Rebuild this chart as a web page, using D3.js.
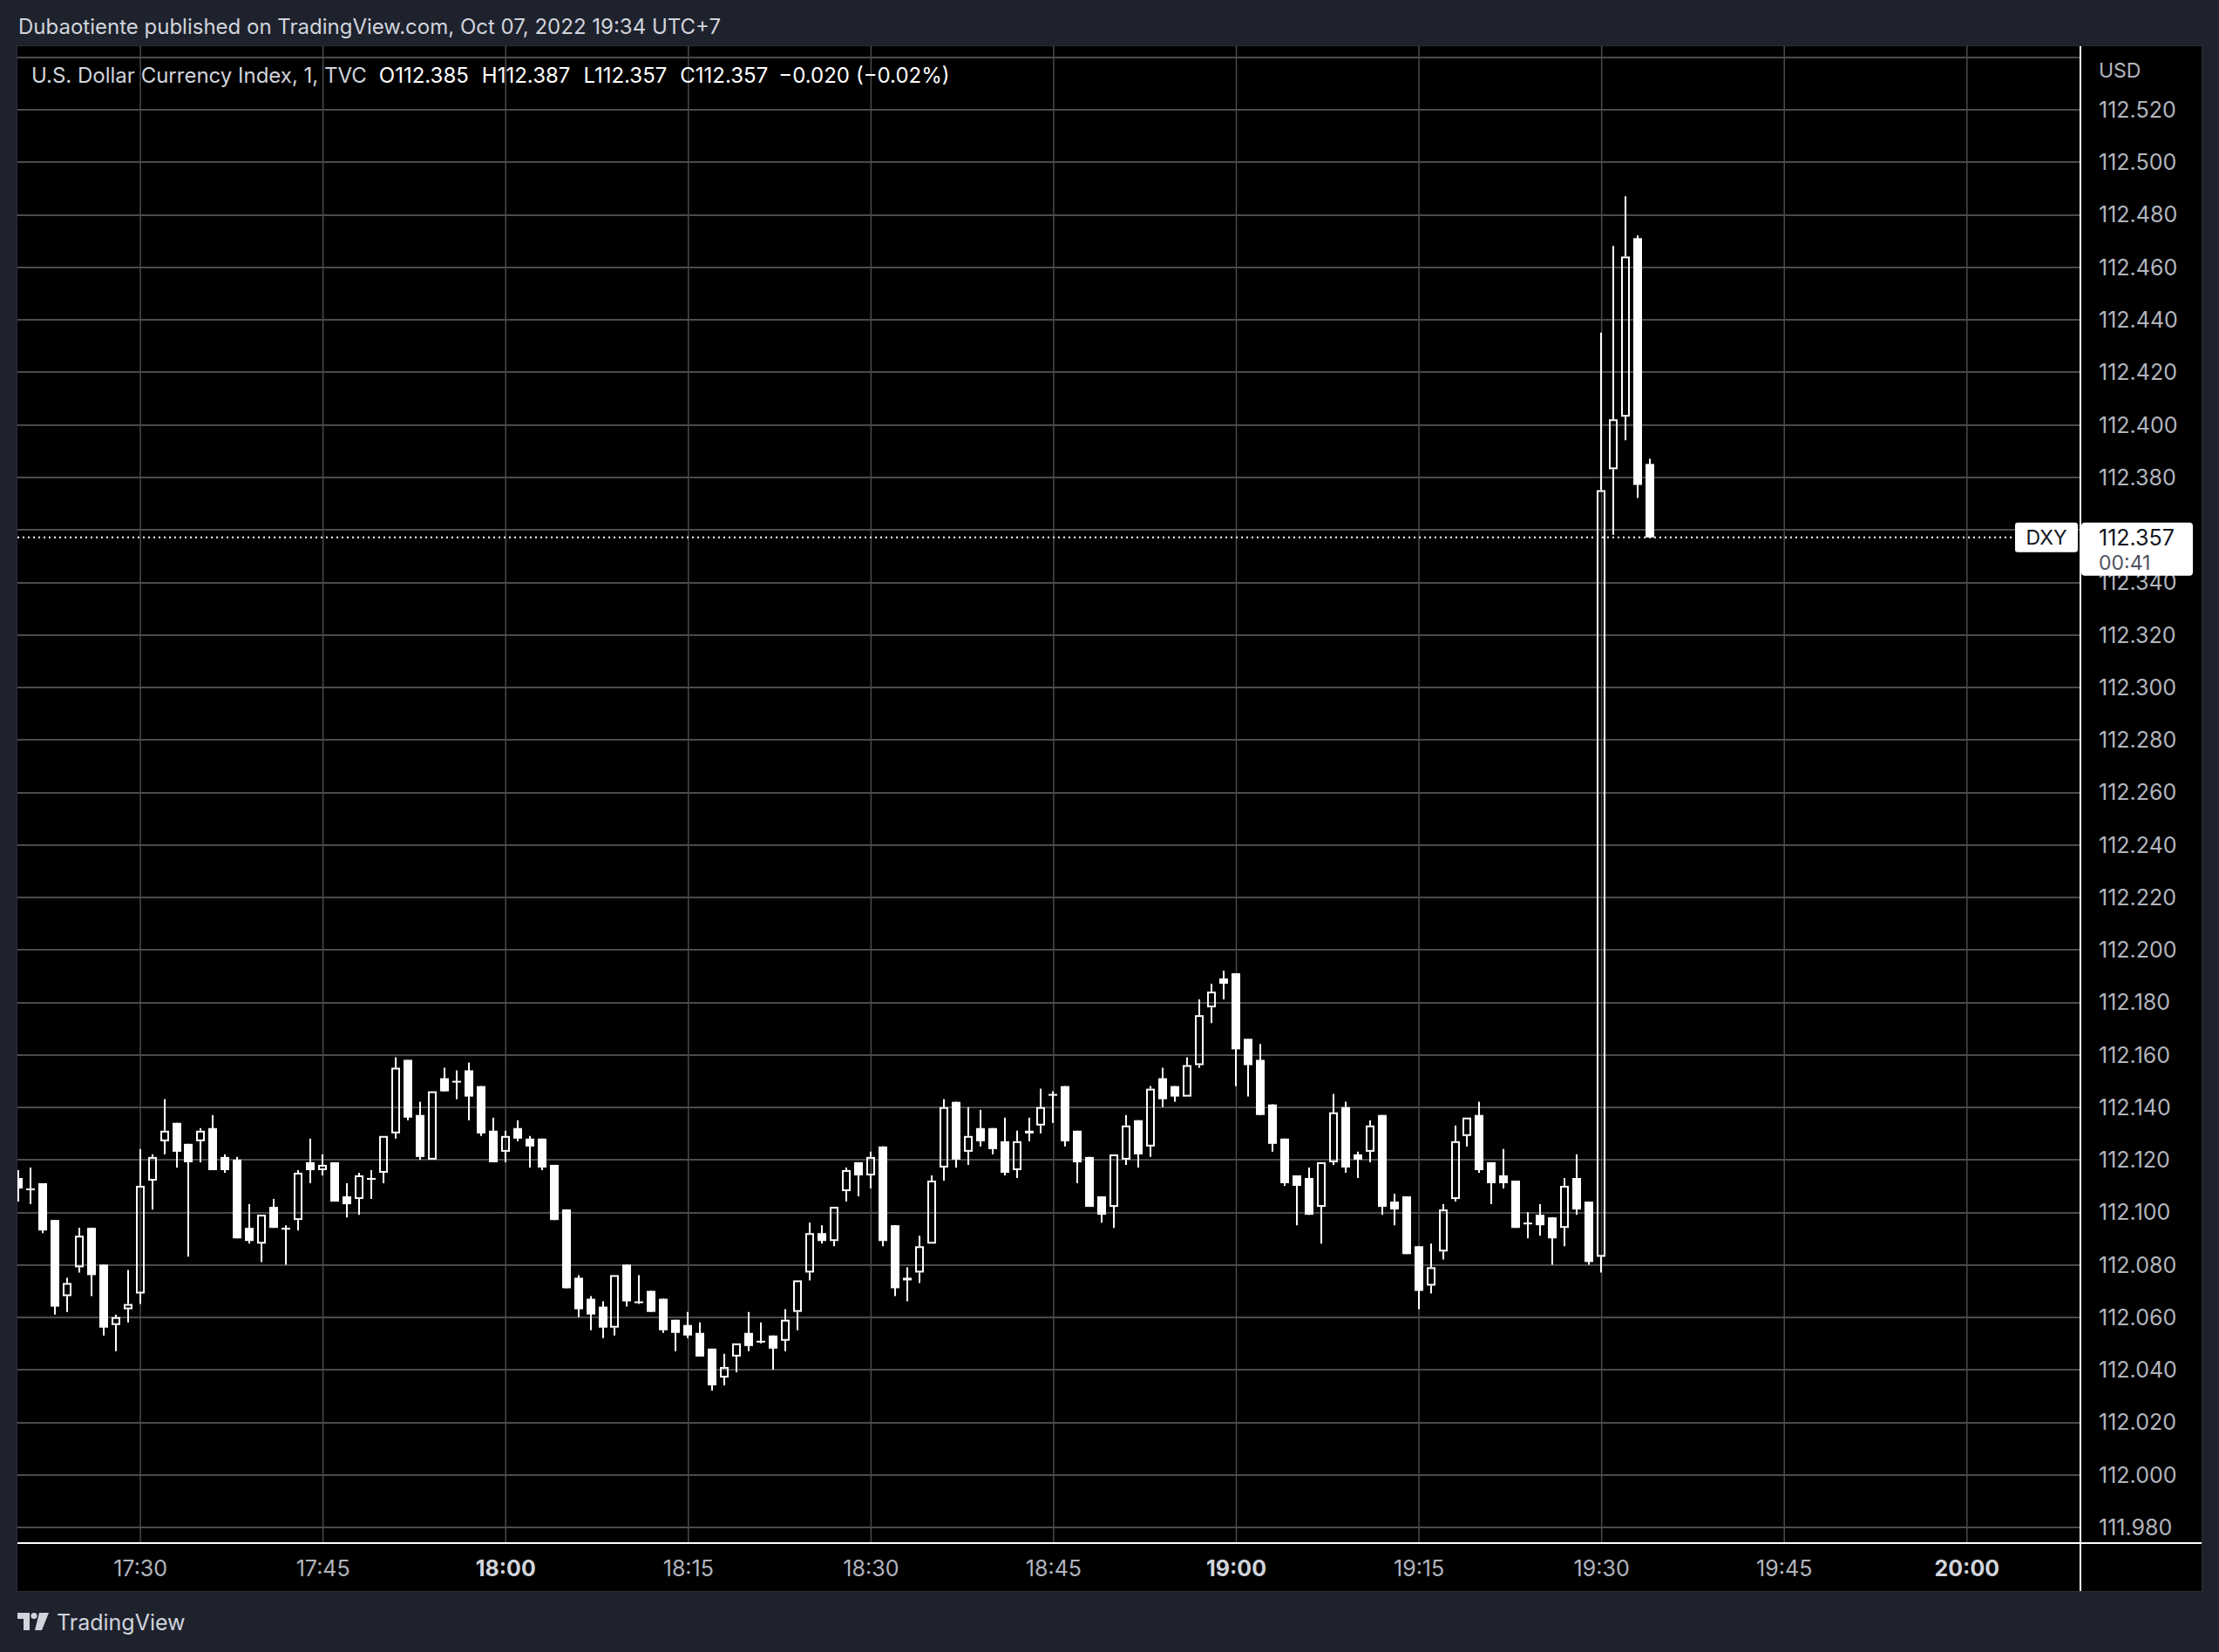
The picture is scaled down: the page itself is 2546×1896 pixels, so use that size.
<!DOCTYPE html>
<html><head><meta charset="utf-8">
<script src="https://cdn.jsdelivr.net/npm/d3@7"></script>
<style>html,body{margin:0;padding:0;background:#1e222d;} svg{display:block;}</style>
</head><body>
<svg id="c" width="2546" height="1896"></svg>
<script>
// ---------------- DATA ----------------
const times = ["17:20","17:21","17:22","17:23","17:24","17:25","17:26","17:27","17:28","17:29",
"17:30","17:31","17:32","17:33","17:34","17:35","17:36","17:37","17:38","17:39",
"17:40","17:41","17:42","17:43","17:44","17:45","17:46","17:47","17:48","17:49",
"17:50","17:51","17:52","17:53","17:54","17:55","17:56","17:57","17:58","17:59",
"18:00","18:01","18:02","18:03","18:04","18:05","18:06","18:07","18:08","18:09",
"18:10","18:11","18:12","18:13","18:14","18:15","18:16","18:17","18:18","18:19",
"18:20","18:21","18:22","18:23","18:24","18:25","18:26","18:27","18:28","18:29",
"18:30","18:31","18:32","18:33","18:34","18:35","18:36","18:37","18:38","18:39",
"18:40","18:41","18:42","18:43","18:44","18:45","18:46","18:47","18:48","18:49",
"18:50","18:51","18:52","18:53","18:54","18:55","18:56","18:57","18:58","18:59",
"19:00","19:01","19:02","19:03","19:04","19:05","19:06","19:07","19:08","19:09",
"19:10","19:11","19:12","19:13","19:14","19:15","19:16","19:17","19:18","19:19",
"19:20","19:21","19:22","19:23","19:24","19:25","19:26","19:27","19:28","19:29",
"19:30","19:31","19:32","19:33","19:34"];

const open = [112.113,112.109,112.111,112.097,112.068,112.079,112.094,112.080,112.057,112.063,
112.069,112.112,112.127,112.134,112.126,112.127,112.132,112.121,112.120,112.094,
112.088,112.102,112.094,112.097,112.119,112.116,112.119,112.106,112.105,112.113,
112.115,112.130,112.158,112.137,112.120,112.151,112.150,112.154,112.148,112.131,
112.123,112.132,112.128,112.128,112.118,112.101,112.075,112.067,112.064,112.056,
112.080,112.066,112.070,112.067,112.059,112.057,112.054,112.048,112.037,112.045,
112.054,112.051,112.053,112.051,112.062,112.077,112.092,112.089,112.108,112.119,
112.114,112.125,112.095,112.075,112.077,112.088,112.117,112.142,112.123,112.132,
112.132,112.127,112.116,112.131,112.133,112.145,112.148,112.131,112.121,112.106,
112.102,112.120,112.135,112.125,112.151,112.148,112.144,112.156,112.178,112.189,
112.191,112.166,112.158,112.141,112.128,112.114,112.113,112.102,112.119,112.140,
112.122,112.123,112.137,112.104,112.106,112.087,112.072,112.085,112.105,112.129,
112.137,112.119,112.114,112.112,112.096,112.099,112.098,112.094,112.113,112.104,
112.083,112.383,112.403,112.471,112.385];

const high = [112.116,112.117,112.111,112.097,112.075,112.094,112.094,112.080,112.061,112.078,
112.124,112.122,112.143,112.134,112.126,112.132,112.137,112.122,112.121,112.103,
112.099,112.105,112.095,112.116,112.128,112.122,112.119,112.111,112.115,112.116,
112.129,112.159,112.158,112.142,112.146,112.155,112.154,112.157,112.148,112.136,
112.131,112.135,112.129,112.128,112.118,112.101,112.076,112.068,112.066,112.076,
112.080,112.076,112.070,112.067,112.059,112.062,112.058,112.048,112.046,112.050,
112.062,112.058,112.053,112.063,112.074,112.096,112.095,112.102,112.117,112.119,
112.123,112.125,112.095,112.079,112.091,112.114,112.143,112.142,112.140,112.139,
112.132,112.136,112.131,112.136,112.147,112.146,112.148,112.131,112.121,112.106,
112.122,112.137,112.135,112.148,112.155,112.148,112.159,112.181,112.187,112.192,
112.191,112.166,112.164,112.141,112.128,112.114,112.117,112.119,112.145,112.142,
112.123,112.135,112.137,112.107,112.106,112.087,112.088,112.103,112.133,112.136,
112.142,112.119,112.124,112.112,112.100,112.103,112.098,112.113,112.122,112.104,
112.435,112.468,112.487,112.472,112.387];

const low = [112.104,112.103,112.092,112.061,112.062,112.077,112.068,112.053,112.047,112.058,
112.065,112.101,112.122,112.117,112.083,112.119,112.116,112.115,112.090,112.088,
112.081,112.094,112.080,112.093,112.111,112.114,112.104,112.098,112.099,112.105,
112.111,112.128,112.135,112.120,112.120,112.146,112.143,112.135,112.129,112.119,
112.119,112.127,112.117,112.116,112.097,112.071,112.060,112.055,112.052,112.053,
112.064,112.065,112.062,112.054,112.047,112.052,112.045,112.032,112.034,112.039,
112.047,112.050,112.040,112.047,112.055,112.074,112.088,112.087,112.104,112.106,
112.109,112.087,112.068,112.066,112.073,112.088,112.112,112.117,112.118,112.125,
112.122,112.114,112.113,112.127,112.130,112.134,112.125,112.111,112.102,112.096,
112.094,112.118,112.117,112.121,112.140,112.142,112.144,112.155,112.172,112.181,
112.148,112.144,112.137,112.123,112.110,112.095,112.099,112.088,112.118,112.115,
112.113,112.119,112.099,112.095,112.084,112.063,112.069,112.082,112.104,112.125,
112.115,112.103,112.109,112.094,112.090,112.091,112.080,112.087,112.099,112.080,
112.077,112.358,112.394,112.372,112.357];

const close = [112.109,112.109,112.093,112.064,112.073,112.091,112.076,112.056,112.060,112.065,
112.110,112.121,112.131,112.123,112.119,112.131,112.116,112.116,112.090,112.089,
112.099,112.094,112.094,112.115,112.116,112.118,112.104,112.103,112.114,112.113,
112.129,112.155,112.136,112.121,112.146,112.146,112.150,112.144,112.130,112.119,
112.129,112.128,112.125,112.117,112.097,112.071,112.063,112.061,112.056,112.076,
112.066,112.066,112.062,112.055,112.054,112.053,112.045,112.034,112.041,112.050,
112.049,112.051,112.048,112.059,112.074,112.092,112.089,112.102,112.116,112.114,
112.121,112.089,112.071,112.074,112.087,112.112,112.140,112.120,112.129,112.127,
112.124,112.115,112.127,112.130,112.140,112.145,112.127,112.119,112.102,112.099,
112.122,112.133,112.122,112.147,112.143,112.144,112.156,112.175,112.184,112.187,
112.162,112.156,112.137,112.126,112.111,112.110,112.099,112.119,112.138,112.117,
112.120,112.133,112.102,112.101,112.084,112.070,112.079,112.101,112.127,112.136,
112.116,112.111,112.111,112.094,112.096,112.095,112.090,112.110,112.101,112.081,
112.375,112.402,112.464,112.377,112.357];

// price labels shown on the axis (112.360 is hidden behind the last-price box, as in the reference)
const priceTicks = ["112.520","112.500","112.480","112.460","112.440","112.420","112.400","112.380",
"112.340","112.320","112.300","112.280","112.260","112.240","112.220","112.200","112.180",
"112.160","112.140","112.120","112.100","112.080","112.060","112.040","112.020","112.000","111.980"];
const gridOnlyTicks = ["112.540","112.360"];
const timeTicks = ["17:30","17:45","18:00","18:15","18:30","18:45","19:00","19:15","19:30","19:45","20:00"];

const symbolName = "U.S. Dollar Currency Index, 1, TVC";
const tickerShort = "DXY";
const countdown = "00:41";
const headerText = "Dubaotiente published on TradingView.com, Oct 07, 2022 19:34 UTC+7";
const axisUnit = "USD";

// ---------------- LAYOUT ----------------
const svg = d3.select("#c");
const panel = {x0:20, x1:2526, y0:53, y1:1826};
const plot = {x0:20, x1:2387, y0:53, y1:1771};
const FONT = "Inter, 'Noto Sans', Roboto, sans-serif";
const gridColor = "#4b4b4b";
const axisText = "#b2b5be";

const toDate = s => { const [h,m] = s.split(":").map(Number); return new Date(2022,9,7,h,m); };
const x = d3.scaleTime().domain([toDate("17:30"), toDate("20:00")]).range([160.6, 2256.3]);
const y = d3.scaleLinear().domain([111.98, 112.52]).range([1752.7, 125.7]);

const candles = times.map((t,i)=>({t:toDate(t), o:open[i], h:high[i], l:low[i], c:close[i]}));

// background
svg.append("rect").attr("width",2546).attr("height",1896).attr("fill","#1e222d");
svg.append("rect").attr("x",panel.x0-0.5).attr("y",panel.y0-0.5)
  .attr("width",panel.x1-panel.x0+1).attr("height",panel.y1-panel.y0+1)
  .attr("fill","#000").attr("stroke","#2a2e39").attr("stroke-width",1);

// header
svg.append("text").attr("x",21).attr("y",31).attr("dy","0.35em")
  .attr("font-family",FONT).attr("font-size",24).attr("fill","#d1d4dc").text(headerText);

// clip
svg.append("clipPath").attr("id","plotclip").append("rect")
  .attr("x",plot.x0).attr("y",plot.y0).attr("width",plot.x1-plot.x0).attr("height",plot.y1-plot.y0);

const gridG = svg.append("g").attr("clip-path","url(#plotclip)");
const allGrid = priceTicks.concat(gridOnlyTicks).map(Number);
gridG.append("g").attr("transform",`translate(${plot.x0},0)`)
  .call(d3.axisRight(y).tickValues(allGrid).tickSize(plot.x1-plot.x0).tickFormat(""))
  .call(g=>{ g.select(".domain").remove();
    g.selectAll("line").attr("stroke",gridColor).attr("stroke-width",2).attr("shape-rendering","crispEdges"); });
gridG.append("g").attr("transform",`translate(0,${plot.y0})`)
  .call(d3.axisBottom(x).tickValues(timeTicks.map(toDate)).tickSize(plot.y1-plot.y0).tickFormat(""))
  .call(g=>{ g.select(".domain").remove();
    g.selectAll("line").attr("stroke",gridColor).attr("stroke-width",1.5); });

// legend line
const lastI = candles.length-1;
const lc = candles[lastI], pc = candles[lastI-1];
const chg = lc.c - pc.c;
const fmt3 = d3.format(".3f");
const legend = svg.append("text").attr("x",36).attr("y",86.5).attr("dy","0.35em")
  .attr("font-family",FONT).attr("font-size",24).attr("fill","#ffffff");
legend.append("tspan").attr("fill","#d1d4dc").text(symbolName);
[["O",lc.o],["H",lc.h],["L",lc.l],["C",lc.c]].forEach(([k,v],i)=>{
  legend.append("tspan").attr("dx", i===0?14:15).text(k);
  legend.append("tspan").text(fmt3(v));
});
legend.append("tspan").attr("dx",12).text(fmt3(chg));
legend.append("tspan").attr("dx",7).text("(" + d3.format(".2f")(chg/pc.c*100) + "%)");

// candles
const cg = svg.append("g").attr("clip-path","url(#plotclip)");
const bw = 10;
candles.forEach(d=>{
  const cx = Math.round(x(d.t));
  const up = d.c > d.o;
  const top = y(Math.max(d.o,d.c)), bot = y(Math.min(d.o,d.c));
  const bh = Math.max(bot-top, 2);
  if (up) {
    cg.append("line").attr("x1",cx).attr("x2",cx).attr("y1",y(d.h)).attr("y2",top)
      .attr("stroke","#fff").attr("stroke-width",2);
    cg.append("line").attr("x1",cx).attr("x2",cx).attr("y1",top+bh).attr("y2",y(d.l))
      .attr("stroke","#fff").attr("stroke-width",2);
    cg.append("rect").attr("x",cx-bw/2+1).attr("y",top+1).attr("width",bw-2).attr("height",Math.max(bh-2,0.5))
      .attr("fill","none").attr("stroke","#fff").attr("stroke-width",2);
  } else {
    cg.append("line").attr("x1",cx).attr("x2",cx).attr("y1",y(d.h)).attr("y2",y(d.l))
      .attr("stroke","#fff").attr("stroke-width",2);
    cg.append("rect").attr("x",cx-bw/2).attr("y",top).attr("width",bw).attr("height",bh).attr("fill","#fff");
  }
});

// last price dotted line
const yLast = y(lc.c);
svg.append("line").attr("x1",plot.x0).attr("x2",2312).attr("y1",yLast).attr("y2",yLast)
  .attr("stroke","#fff").attr("stroke-width",2).attr("stroke-dasharray","2,4");

// separators
svg.append("line").attr("x1",plot.x1).attr("x2",plot.x1).attr("y1",panel.y0).attr("y2",panel.y1)
  .attr("stroke","#fff").attr("stroke-width",2);
svg.append("line").attr("x1",panel.x0).attr("x2",panel.x1).attr("y1",plot.y1).attr("y2",plot.y1)
  .attr("stroke","#fff").attr("stroke-width",2);

// price axis labels
svg.append("g").attr("transform",`translate(${plot.x1},0)`)
  .call(d3.axisRight(y).tickValues(priceTicks.map(Number)).tickSize(0).tickPadding(21).tickFormat(fmt3))
  .call(g=>{ g.select(".domain").remove();
    g.selectAll("text").attr("font-family",FONT).attr("font-size",25).attr("fill",axisText).attr("dy","0.35em"); });
svg.append("text").attr("x",2408).attr("y",81).attr("dy","0.35em").attr("font-family",FONT)
  .attr("font-size",23).attr("fill",axisText).text(axisUnit);

// time axis labels
const hf = d3.timeFormat("%H:%M");
svg.append("g").attr("transform",`translate(0,${plot.y1})`)
  .call(d3.axisBottom(x).tickValues(timeTicks.map(toDate)).tickSize(0).tickFormat(hf))
  .call(g=>{ g.select(".domain").remove();
    g.selectAll("text").attr("font-family",FONT).attr("font-size",25).attr("y",29).attr("dy","0.35em")
     .attr("fill",d=>d.getMinutes()===0?"#d1d4dc":axisText)
     .attr("font-weight",d=>d.getMinutes()===0?700:400); });

// DXY label
svg.append("rect").attr("x",2312).attr("y",yLast-17).attr("width",72).attr("height",34).attr("rx",3).attr("fill","#fff");
svg.append("text").attr("x",2348).attr("y",yLast).attr("dy","0.35em").attr("text-anchor","middle")
  .attr("font-family",FONT).attr("font-size",23).attr("fill","#131722").text(tickerShort);
// price box
svg.append("rect").attr("x",2388).attr("y",yLast-17).attr("width",128).attr("height",61).attr("rx",4).attr("fill","#fff");
svg.append("text").attr("x",2408).attr("y",yLast).attr("dy","0.35em")
  .attr("font-family",FONT).attr("font-size",25).attr("fill","#131722").text(fmt3(lc.c));
svg.append("text").attr("x",2408).attr("y",yLast+29).attr("dy","0.35em")
  .attr("font-family",FONT).attr("font-size",23).attr("fill","#50535e").text(countdown);

// TradingView logo
const logo = svg.append("g").attr("fill","#d1d4dc");
logo.append("path").attr("d","M20,1851 H34 V1871 H27 V1858 H20 Z");
logo.append("circle").attr("cx",39).attr("cy",1854.5).attr("r",3.6);
logo.append("path").attr("d","M45,1851 H56 L48,1871 H40 Z");
svg.append("text").attr("x",65).attr("y",1862).attr("dy","0.35em").attr("font-family",FONT)
  .attr("font-size",25).attr("fill","#d1d4dc").text("TradingView");
</script>
</body></html>
